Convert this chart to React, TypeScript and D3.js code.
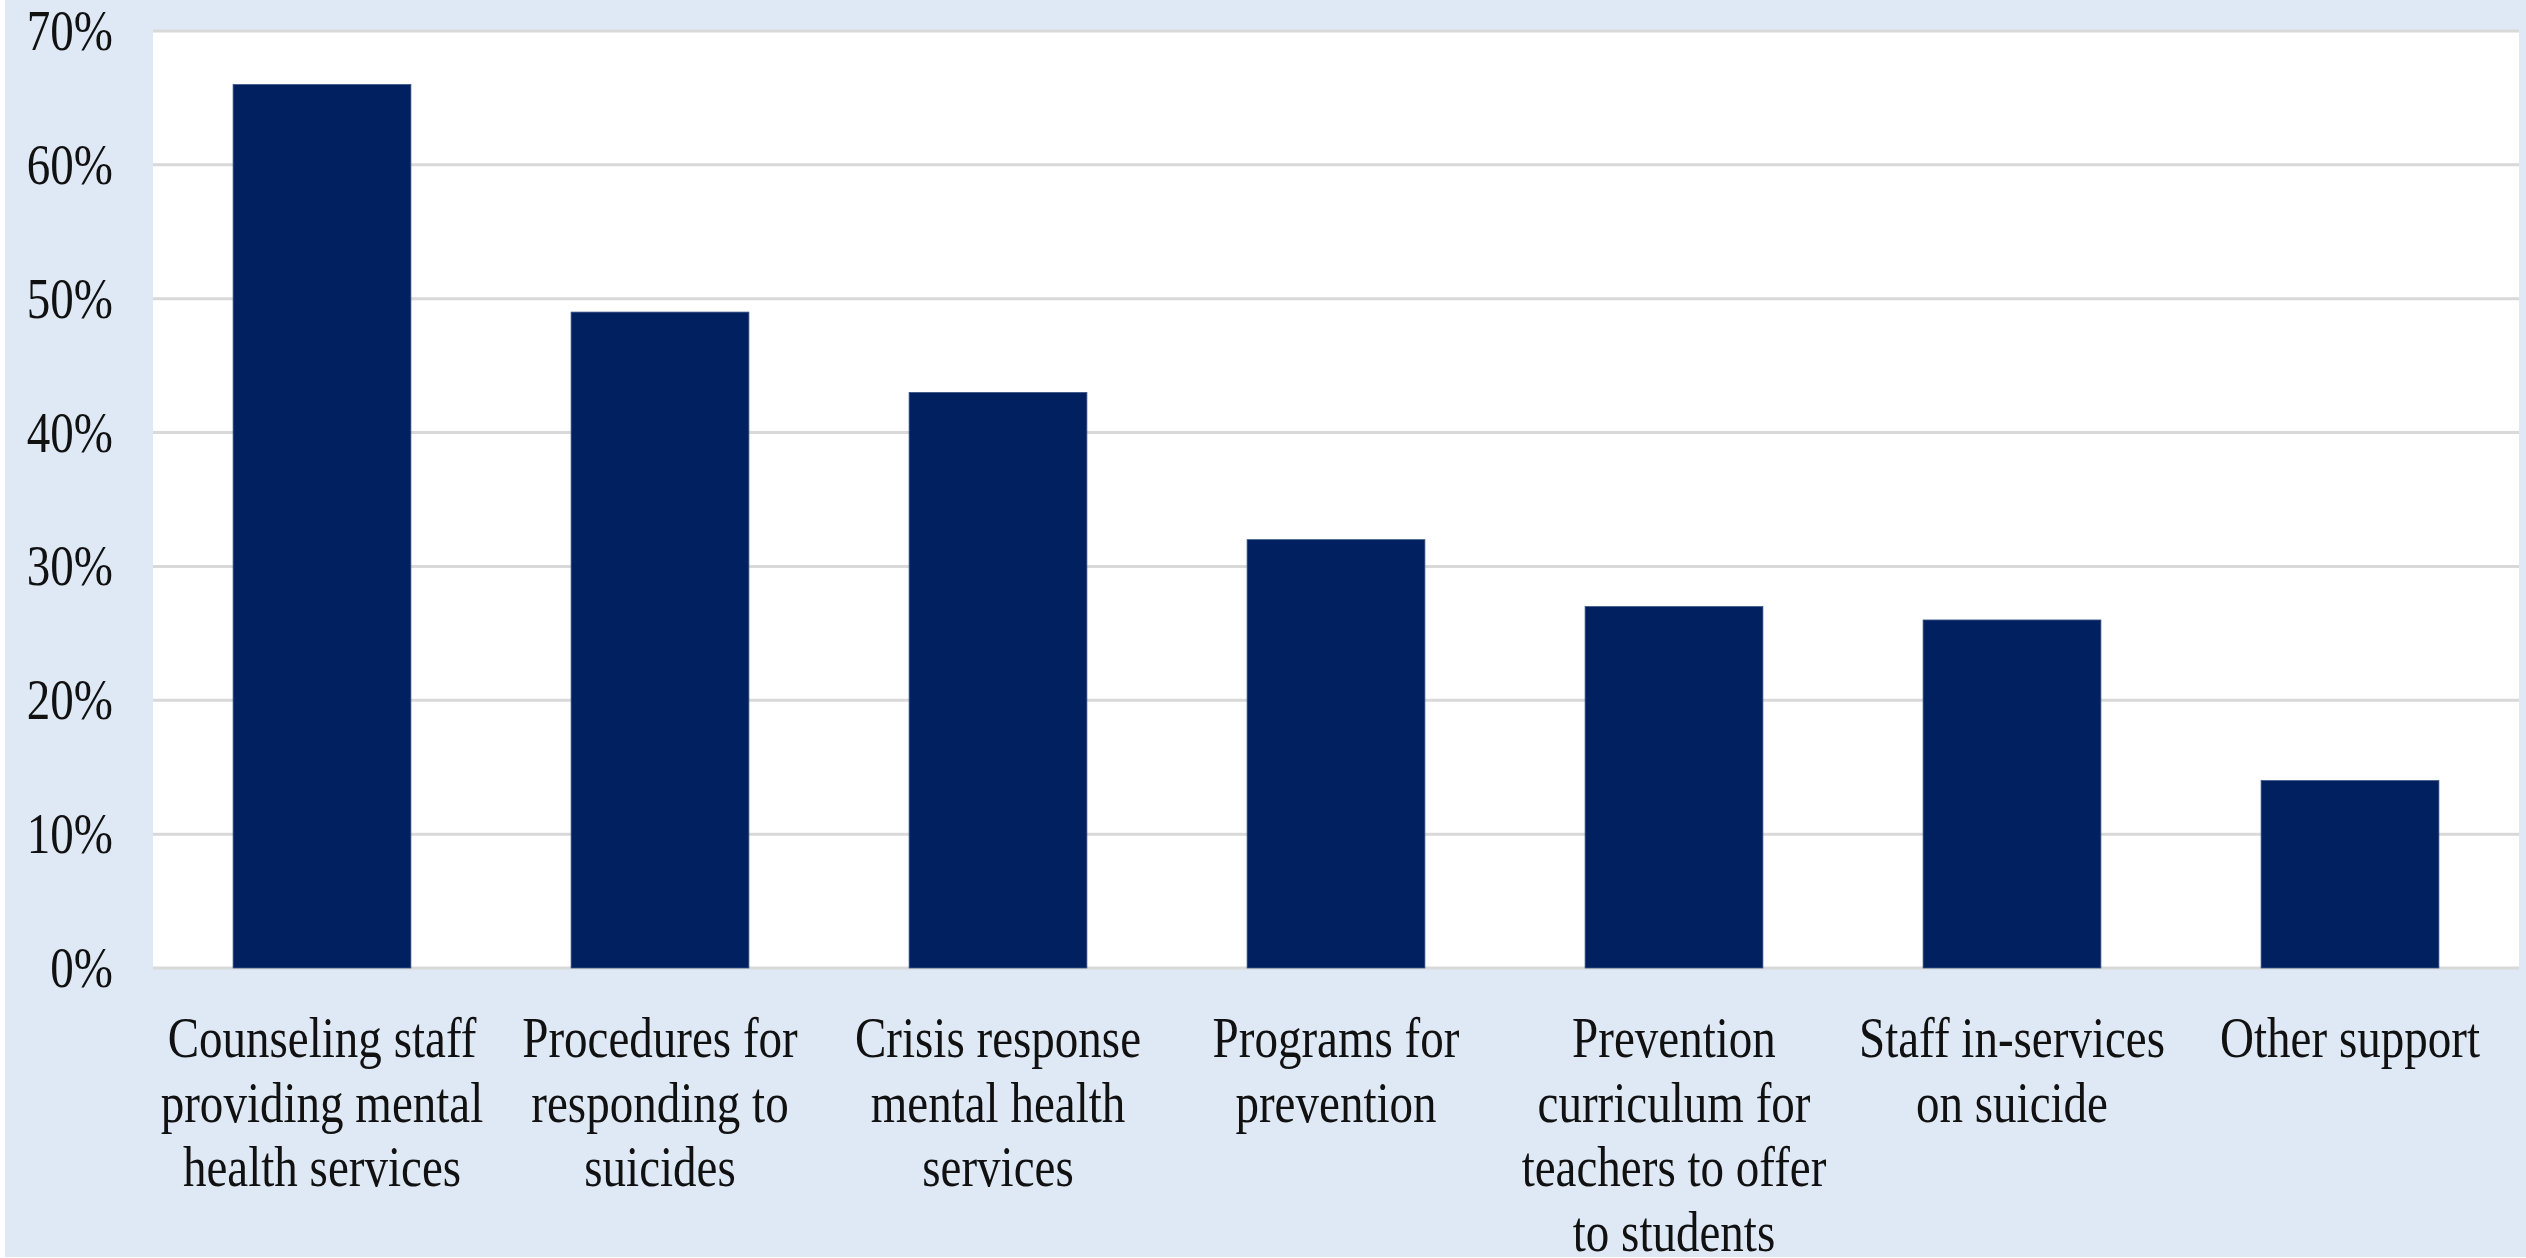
import React from "react";
import * as d3 from "d3";

const categories: string[][] = [
  ["Counseling staff", "providing mental", "health services"],
  ["Procedures for", "responding to", "suicides"],
  ["Crisis response", "mental health", "services"],
  ["Programs for", "prevention"],
  ["Prevention", "curriculum for", "teachers to offer", "to students"],
  ["Staff in-services", "on suicide"],
  ["Other support"],
];
const values: number[] = [66, 49, 43, 32, 27, 26, 14];
const yTicks: number[] = [0, 10, 20, 30, 40, 50, 60, 70];

const W = 2526;
const H = 1258;
const plot = { left: 153, right: 2519, top: 31, bottom: 968 };
const FONT = "'Liberation Serif', 'Times New Roman', serif";
const FS = 56;
const SX = 0.84;

export default function App() {
  const keys = categories.map((_, i) => String(i));
  const x = d3
    .scaleBand<string>()
    .domain(keys)
    .range([plot.left, plot.right])
    .paddingInner(0.474)
    .paddingOuter(0.237);
  const y = d3.scaleLinear().domain([0, 70]).range([plot.bottom, plot.top]);

  return (
    <svg
      width={W}
      height={H}
      style={{ position: "absolute", left: 0, top: 0, display: "block" }}
    >
      <rect x={0} y={0} width={W} height={H} fill="#ffffff" />
      <rect x={5} y={0} width={W - 5} height={H - 1} fill="#dee9f5" />
      <rect
        x={plot.left}
        y={plot.top}
        width={plot.right - plot.left}
        height={plot.bottom - plot.top}
        fill="#ffffff"
      />
      {yTicks.map((t) => (
        <line
          key={"g" + t}
          x1={plot.left}
          x2={plot.right}
          y1={y(t)}
          y2={y(t)}
          stroke="#d9d9d9"
          strokeWidth={3}
        />
      ))}
      {values.map((v, i) => (
        <rect
          key={"b" + i}
          x={x(String(i))}
          y={y(v)}
          width={x.bandwidth()}
          height={y(0) - y(v)}
          fill="#002060"
          stroke="#3a5585"
          strokeWidth={0.8}
        />
      ))}
      {yTicks.map((t) => (
        <text
          key={"yl" + t}
          transform={`translate(113,${y(t) + 19}) scale(${SX},1)`}
          textAnchor="end"
          fontFamily={FONT}
          fontSize={FS}
          fill="#111111"
        >
          {t + "%"}
        </text>
      ))}
      {categories.map((lines, i) => {
        const cx = (x(String(i)) as number) + x.bandwidth() / 2;
        return (
          <g key={"c" + i}>
            {lines.map((ln, j) => (
              <text
                key={j}
                transform={`translate(${cx},${1057 + j * 64.5}) scale(${SX},1)`}
                textAnchor="middle"
                fontFamily={FONT}
                fontSize={FS}
                fill="#111111"
              >
                {ln}
              </text>
            ))}
          </g>
        );
      })}
    </svg>
  );
}
